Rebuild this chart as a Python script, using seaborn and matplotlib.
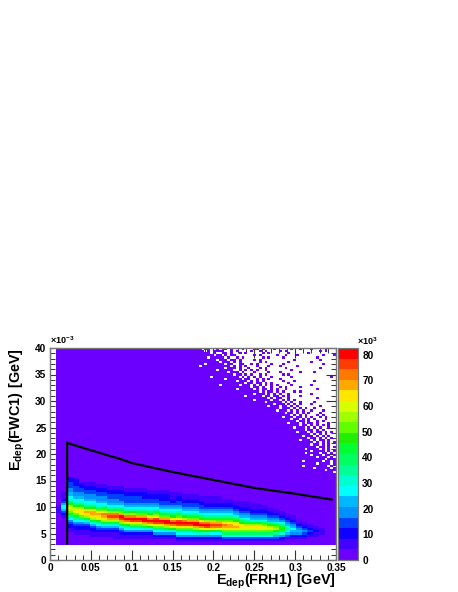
import numpy as np
import matplotlib
matplotlib.use("Agg")
import matplotlib.pyplot as plt
from matplotlib.colors import ListedColormap
from matplotlib.ticker import MultipleLocator
import seaborn as sns

sns.set_theme(style="ticks")
plt.rcParams["font.family"] = ["Liberation Sans", "DejaVu Sans"]
plt.rcParams["font.weight"] = "bold"
plt.rcParams["text.color"] = "black"
plt.rcParams["axes.labelcolor"] = "black"
plt.rcParams["xtick.labelcolor"] = "black"
plt.rcParams["ytick.labelcolor"] = "black"
plt.rcParams["mathtext.fontset"] = "custom"
plt.rcParams["mathtext.bf"] = "Liberation Sans:bold"
plt.rcParams["mathtext.rm"] = "Liberation Sans:bold"
plt.rcParams["mathtext.default"] = "bf"

# Colour level of the main band.
# One string per 0.007 GeV column, bottom (3e-3 GeV) upward, 0.4e-3 GeV per char.
band_columns = [
    "0",
    "000000000000000" "1111",
    "0000000000000" "1235665321" "11",
    "000000" "11223468acd" "e" "db97655443332211",
    "00000" "11223468ace" "f" "db97654433322211",
    "00000" "11223469ce" "ff" "db97654433221",
    "00000" "1122357adf" "g" "eb976544332211",
    "0000" "1122357adf" "gg" "eb976544332211",
    "0000" "1123468bef" "g" "fc97654433221 1",
    "0000" "112357adf" "gh" "eca86544332211",
    "0000" "112357adg" "i" "hda86544332211",
    "000" "1112357adg" "i" "hda86544332211",
    "000" "112357adg" "ij" "gca86543332211",
    "000" "112468beh" "j" "hda86543332211",
    "000" "112469cfi" "j" "hdb86543332211",
    "000" "112469cf" "ij" "gca86543332211",
    "000" "11247adg" "jj" "gca86543322211",
    "000" "11247beh" "j" "heb97654332211",
    "000" "12469cfi" "j" "ieca8654332211",
    "000" "12469cf" "ij" "gca86543322211",
    "000" "1247adg" "jj" "gca86543322211",
    "000" "1247beh" "j" "heb97654322111",
    "00" "12469cfi" "j" "ieca8654332211",
    "00" "12469cfi" "j" "hdb86543322 11",
    "00" "12469cf" "ij" "gca8654332211",
    "00" "1247adg" "jj" "gca8654332211",
    "00" "1247beh" "j" "heb9754332211",
    "00" "1247bfi" "j" "hda8654322111",
    "00" "1246bfh" "i" "gda8654322111",
    "00" "1246aeh" "i" "gca8654322111",
    "00" "1369cf" "gh" "fca865432211",
    "00" "1369cf" "gg" "eca865432211",
    "00" "1369cf" "g" "feb975432211",
    "00" "1369ce" "f" "eb9754322111",
    "00" "1369ce" "f" "da8654322111",
    "00" "1369c" "ef" "da754322111",
    "00" "1369c" "ff" "da754322111",
    "00" "1369c" "ee" "c975432211",
    "00" "1369c" "e" "db854322110",
    "00" "1358b" "d" "ca75432110",
    "00" "1247a" "b" "a8643211",
    "000" "1357" "8" "7543211",
    "000" "1245" "6" "543211",
    "000" "124" "5" "43211",
    "000" "123" "4" "3211",
    "0000" "12" "3" "211",
    "0000" "11" "2" "11",
    "00000" "1" "1" "1",
    "0",
    "0",
]

# Empty (white) bins of the sparse upper-right corner, top row = 39.8e-3 GeV, 0.4 per row;
# first char = 0.175 GeV, 0.0035 per char.
empty_rows = [
    "...#..##.# ..#.###.## #..#.###.# ####.##.## #.####.###",
    "....#.#... .##.#.#### .##.#.#### .#.####### ####.#.###",
    "......#.## ..#.##.#.# ####.#.### ###.###### .#########",
    ".......#.. #.#..#####  #.#.##### .##.###.## ######.###",
    ".....#.... .#.##.#.## ####.#.### #.######## ###.######",
    "........#. ..#..#.### #.#.###### #####.#### ####.#####",
    ".........# ...#.#.### ###.#.#### ###.###### #.########",
    "....#..... .#..##..## .#.####.## #.######## #####.####",
    "..#....... ...#.#.#.# ##.###.### .#####.### ##########",
    ".......... .#...#.##. ###.#.#### ##.####### ####.#####",
    "........#. ....##.#.# .#.##.#### ####.##### ##########",
    ".......... ..#...#.## #.####.### .######.## ##.#######",
    ".......... ....#..#.# .##.#.#### #.#.###### ##########",
    "......#... ......#.#. #.#.###.## ####.##### ########.#",
    ".......... .#.....#.. ##.#.#.### .######### ##########",
    ".......... .....#...# .#.#.##### #.###.#### ##.#######",
    ".......... ........#. .#..#.#.## ###.###### ##########",
    ".........# ......#... #.#.#.#.#. ####.##### #.########",
    ".......... .......... #..#.##.## .#.####.## ##########",
    ".......... .....#.... .#.#..#.#. ##.####### ###.######",
    ".......... .......... ...#.#..#. #.###.#.## ##########",
    ".......... .......... .#...#.#.# .##.###### #.########",
    ".......... ........#. ....#..#.. #.#.###.## ##########",
    ".......... .......... ......#.#. .##.###### ###.######",
    ".......... .......... .#.....#.. #.#.#.#### ##########",
    ".......... .......... .....#.... .#.#.##.## ##.#######",
    ".......... .......... ........#. ..#.#.#.## #.########",
    ".......... .......... ......#... #..#.#.### ####.#####",
    ".......... .......... .......... #...#.#.#. ##.#######",
    ".......... .......... .........# ...#.#.#.# #.###.####",
    ".......... .......... .......... ..#..#.#.# .###.#####",
    ".......... .......... .......... ....#.#.#. ###.#.####",
    ".......... .......... .......... .#...#..#. #.##.#.###",
    ".......... .......... .......... ....#..#.# .#.###.###",
    ".......... .......... .......... ......#..# .##.#.####",
    ".......... .......... .......... ...#...#.# ..#.###.##",
    ".......... .......... .......... .......#.. #.#.#.#.##",
    ".......... .......... .......... .....#...# .#.#.##.##",
    ".......... .......... .......... .........# ..#.#.####",
    ".......... .......... .......... ......#... #.#..#.#.#",
    ".......... .......... .......... .......... .#.#.#.###",
    ".......... .......... .......... ........#. ..#.#.#.##",
    ".......... .......... .......... .......... #..#.#.#.#",
    ".......... .......... .......... .......#.. .#.#..#.##",
    ".......... .......... .......... .......... ..#.#.#.#.",
    ".......... .......... .......... .......... .#..#.#.##",
    ".......... .......... .......... .......... ...#..#.#.",
    ".......... .......... .......... .........# ....#.#.##",
    ".......... .......... .......... .......... .#....#.#.",
    ".......... .......... .......... .........# ....#..#.#",
    ".......... .......... .......... .......... .#...#..#.",
    ".......... .......... .......... .......... ...#...#.#",
    ".......... .......... .......... .......... ......#...",
    ".......... .......... .......... ........#. .....#..#.",
    ".......... .......... .......... .......... ...#....#.",
    ".......... .......... .......... ........#. .......#.#",
    ".......... .......... .......... .......... ..#.....#.",
    ".......... .......... .......... .......... ......#...",
    ".......... .......... .......... .......... .........#",
]

palette = ["#6c00ff", "#4400ff", "#1000ff", "#0040ff", "#0090ff", "#00b8ff",
           "#00ffff", "#00ffd0", "#00ff98", "#00ff60", "#00ff30", "#20f000",
           "#60ff00", "#a0ff00", "#d8ff00", "#ffe600", "#ffa800", "#ff7800",
           "#ff3c00", "#ff0000"]
level_step = 4.13
cut_x = [0.021, 0.021, 0.05, 0.085, 0.10, 0.15, 0.20, 0.25, 0.30, 0.345]
cut_y = [3.0, 22.1, 20.7, 19.1, 18.3, 16.6, 15.1, 13.6, 12.5, 11.4]

x_ticks = [0, 0.05, 0.1, 0.15, 0.2, 0.25, 0.3, 0.35]
x_labels = ["0", "0.05", "0.1", "0.15", "0.2", "0.25", "0.3", "0.35"]
y_ticks = [0, 5, 10, 15, 20, 25, 30, 35, 40]

dx, dy = 0.35 / 100, 40 / 100
band = [c.replace(" ", "").ljust(32, "0")[:32] for c in band_columns]
empty = [r.replace(" ", "") for r in empty_rows]

z = np.zeros((100, 100))
mask = np.zeros((100, 100), bool)
for r in range(100):
    yc = (r + 0.5) * dy
    for c in range(100):
        xc = (c + 0.5) * dx
        lvl = 0
        idx = r - 7
        if 0 <= idx < 32:
            lvl = int(band[min(int(xc / 0.007), 49)][idx], 36)
        z[r, c] = (lvl + 0.5) * level_step
        if yc < 2.9 or c < 2:
            mask[r, c] = True
for i, row in enumerate(empty):
    for j, ch in enumerate(row):
        if ch == "#" and 50 + j < 100:
            mask[99 - i, 50 + j] = True

W, H = 458, 592
fig = plt.figure(figsize=(W / 100, H / 100), dpi=100, facecolor="white")
ax = fig.add_axes([50 / W, (H - 560) / H, 286 / W, 212 / H])
cax = fig.add_axes([338 / W, (H - 560) / H, 20 / W, 212 / H])

sns.heatmap(z, mask=mask, cmap=ListedColormap(palette), vmin=0, vmax=20 * level_step,
            ax=ax, cbar_ax=cax, xticklabels=False, yticklabels=False,
            cbar_kws={"ticks": list(range(0, 90, 10))})
ax.invert_yaxis()
ax.set_xlim(0, 100)
ax.set_ylim(0, 100)

ax.plot(np.array(cut_x) / dx, np.array(cut_y) / dy, color="black", lw=1.6, solid_joinstyle="miter")

ax.set_xticks(np.array(x_ticks) / dx)
ax.set_xticklabels(x_labels, fontsize=7.3, fontweight="bold", color="black")
ax.set_yticks(np.array(y_ticks) / dy)
ax.set_yticklabels([str(v) for v in y_ticks], fontsize=7.3, fontweight="bold", rotation=0, color="black")
ax.xaxis.set_minor_locator(MultipleLocator(0.01 / dx))
ax.yaxis.set_minor_locator(MultipleLocator(1 / dy))
ax.tick_params(which="major", direction="in", length=7, width=0.8, color="#333333",
               top=True, right=True, pad=2.5)
ax.tick_params(which="minor", direction="in", length=3.5, width=0.7, color="#333333",
               top=True, right=True)
for s in ax.spines.values():
    s.set_visible(True)
    s.set_color("#777777")
    s.set_linewidth(1.0)

ax.set_xlabel("")
ax.set_ylabel("")
fig.text(336 / W, 1 - 585 / H, r"$\mathbf{E_{dep}(FRH1)\ [GeV]}$", ha="right", va="baseline", fontsize=10.4)
fig.text(17 / W, 1 - 348 / H, r"$\mathbf{E_{dep}(FWC1)\ [GeV]}$", ha="center", va="top",
         rotation=90, fontsize=10.4)
fig.text(50 / W, 1 - 346 / H, r"$\times\mathbf{10^{-3}}$", ha="left", va="bottom", fontsize=6.5)
fig.text(357 / W, 1 - 347 / H, r"$\times\mathbf{10^{3}}$", ha="left", va="bottom", fontsize=6.5)

cax.tick_params(which="major", direction="in", length=7, width=0.8, color="black",
                right=True, left=False, pad=3, labelsize=7.3)
for lab in cax.get_yticklabels():
    lab.set_fontweight("bold")
    lab.set_color("black")
for s in cax.spines.values():
    s.set_visible(True)
    s.set_color("#777777")
    s.set_linewidth(0.8)

fig.savefig("out.png", dpi=100, facecolor="white")
